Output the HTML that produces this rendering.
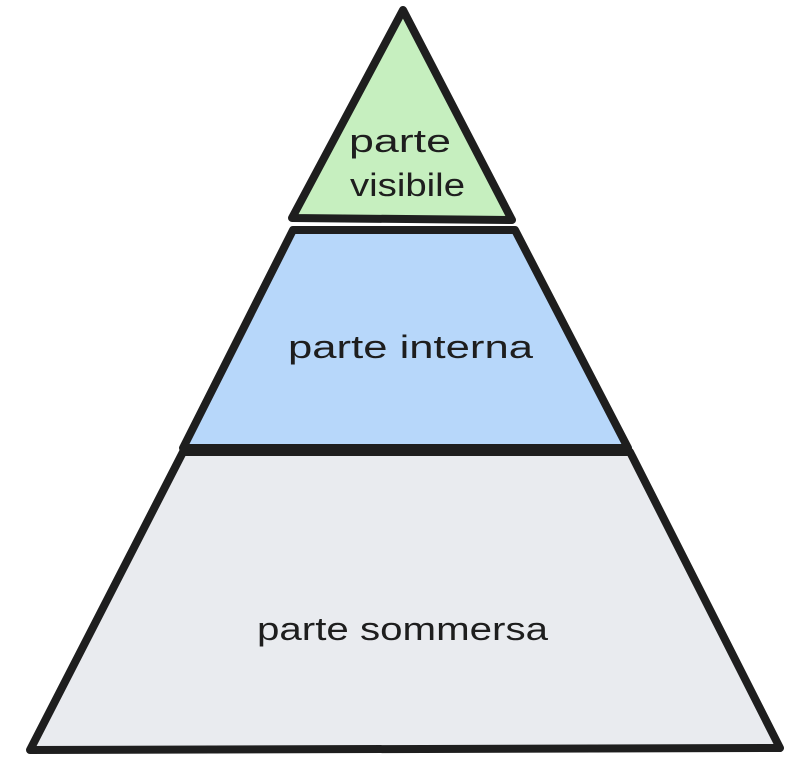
<!DOCTYPE html>
<html><head><style>
html,body{margin:0;padding:0;background:#fff;width:803px;height:775px;overflow:hidden}
text{font-family:"Liberation Sans",sans-serif;font-size:32px;fill:#1e1e1e}
</style></head><body>
<svg width="803" height="775" viewBox="0 0 803 775" xmlns="http://www.w3.org/2000/svg">
<g stroke="#1e1e1e" stroke-width="8" stroke-linejoin="round" stroke-linecap="round">
<polygon points="403,10 512,220 292,218" fill="#c6efbf"/>
<polygon points="293,230 515,230 628,448 183,448" fill="#b7d7fa"/>
<polygon points="183,452 630,452 780,748 30,750" fill="#e9ebef"/>
</g>
<text x="349" y="152" textLength="102" lengthAdjust="spacingAndGlyphs">parte</text>
<text x="350" y="196" textLength="115" lengthAdjust="spacingAndGlyphs">visibile</text>
<text x="288" y="358" textLength="245" lengthAdjust="spacingAndGlyphs">parte interna</text>
<text x="257" y="640" textLength="291" lengthAdjust="spacingAndGlyphs">parte sommersa</text>
</svg>
</body></html>
